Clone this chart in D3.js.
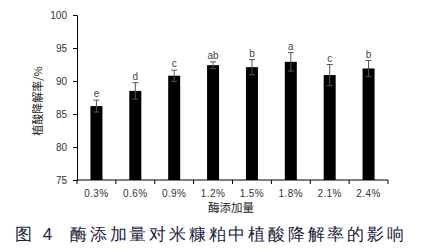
<!DOCTYPE html>
<html>
<head>
<meta charset="utf-8">
<script src="https://cdn.jsdelivr.net/npm/d3@7"></script>
<style>
  body { margin: 0; background: #fff; }
  text { font-family: "Liberation Sans", Arial, sans-serif; }
</style>
</head>
<body>
<svg class="chart" width="425" height="252"></svg>
<script>
// data
var categories = ["0.3%", "0.6%", "0.9%", "1.2%", "1.5%", "1.8%", "2.1%", "2.4%"];
var values = [86.2, 88.5, 90.8, 92.4, 92.1, 92.9, 90.9, 91.9];
var errors = [0.9, 1.25, 0.85, 0.5, 1.15, 1.4, 1.6, 1.2];
var letters = ["e", "d", "c", "ab", "b", "a", "c", "b"];
var yTicks = [75, 80, 85, 90, 95, 100];

var svg = d3.select(".chart");
var mLeft = 77, mRight = 388, mTop = 15, mBottom = 180;

var x = d3.scaleBand()
    .domain(categories)
    .range([mLeft, mRight]);

var y = d3.scaleLinear()
    .domain([75, 100])
    .range([mBottom, mTop]);

// y axis
var yAxis = svg.append("g")
    .attr("transform", "translate(" + mLeft + ",0)")
    .call(d3.axisLeft(y).tickValues(yTicks).tickSize(4).tickPadding(6));
yAxis.select(".domain").attr("stroke", "#000");
yAxis.selectAll("text").attr("fill", "#333").style("font-size", "10px");

// x axis, ticks sit between the categories
var xAxis = svg.append("g")
    .attr("transform", "translate(0," + mBottom + ")");
xAxis.append("line")
    .attr("x1", mLeft).attr("x2", mRight)
    .attr("stroke", "#000");
var bounds = categories.map(function (d) { return x(d); }).concat([mRight]);
xAxis.selectAll(".tk")
    .data(bounds)
    .enter().append("line")
    .attr("x1", function (d) { return d; })
    .attr("x2", function (d) { return d; })
    .attr("y1", 0).attr("y2", 4)
    .attr("stroke", "#000");
xAxis.selectAll(".lab")
    .data(categories)
    .enter().append("text")
    .attr("x", function (d) { return x(d) + x.bandwidth() / 2; })
    .attr("y", 17)
    .attr("text-anchor", "middle")
    .attr("fill", "#333")
    .style("font-size", "10px")
    .style("letter-spacing", "0.4px")
    .text(function (d) { return d; });

// bars
var barW = 12;
var g = svg.selectAll(".bar")
    .data(values)
    .enter().append("g");

g.append("rect")
    .attr("x", function (d, i) { return x(categories[i]) + x.bandwidth() / 2 - barW / 2; })
    .attr("y", function (d) { return y(d); })
    .attr("width", barW)
    .attr("height", function (d) { return mBottom - y(d); })
    .attr("fill", "#000");

// error bars
g.each(function (d, i) {
    var cx = x(categories[i]) + x.bandwidth() / 2;
    var el = d3.select(this);
    var hi = y(d + errors[i]), lo = y(d - errors[i]);
    el.append("line").attr("x1", cx).attr("x2", cx).attr("y1", hi).attr("y2", lo)
        .attr("stroke", "#555").attr("stroke-width", 1);
    el.append("line").attr("x1", cx - 3).attr("x2", cx + 3).attr("y1", hi).attr("y2", hi)
        .attr("stroke", "#555");
    el.append("line").attr("x1", cx - 3).attr("x2", cx + 3).attr("y1", lo).attr("y2", lo)
        .attr("stroke", "#555");
    el.append("text")
        .attr("x", cx)
        .attr("y", hi - 3)
        .attr("text-anchor", "middle")
        .attr("fill", "#444")
        .style("font-size", "10px")
        .text(letters[i]);
});

// axis titles
svg.append("text")
    .attr("transform", "translate(42,101) rotate(-90)")
    .attr("text-anchor", "middle")
    .style("font-family", "'Noto Sans CJK SC'")
    .style("font-size", "11px")
    .attr("fill", "#222")
    .text("植酸降解率/%");

svg.append("text")
    .attr("x", 231)
    .attr("y", 212)
    .attr("text-anchor", "middle")
    .style("font-family", "'Noto Sans CJK SC'")
    .style("font-size", "11.5px")
    .attr("fill", "#222")
    .text("酶添加量");

// caption
var caption = svg.append("g")
    .style("font-family", "'Noto Sans CJK SC'")
    .style("font-size", "17px")
    .style("font-weight", "500")
    .attr("fill", "#1c2340");
caption.append("text")
    .attr("x", 15)
    .attr("y", 240)
    .style("letter-spacing", "3px")
    .text("图 4");
caption.append("text")
    .attr("x", 70)
    .attr("y", 240)
    .style("letter-spacing", "2.8px")
    .text("酶添加量对米糠粕中植酸降解率的影响");
</script>
</body>
</html>
